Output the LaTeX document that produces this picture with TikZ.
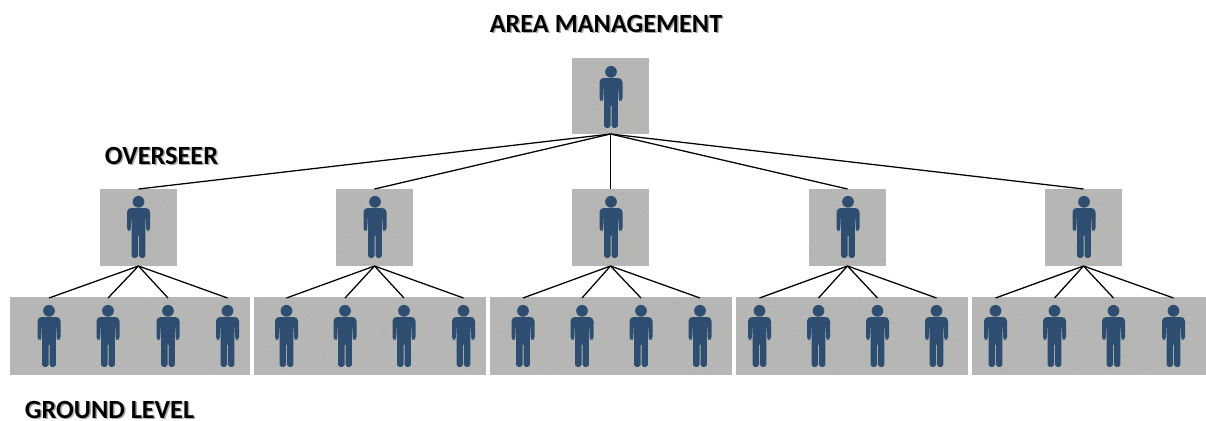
\documentclass[tikz,border=0pt]{standalone}
\usepackage{fontspec}
\setmainfont{Carlito}
\definecolor{panel}{HTML}{B6B6B4}
\definecolor{speck}{HTML}{9C9C9A}
\definecolor{figblue}{HTML}{2D4E70}
\definecolor{shadowgrey}{HTML}{ABABAB}
\tikzset{
  x=0.75pt,y=-0.75pt,
  panelbox/.style={fill=panel,draw=none,inner sep=0pt,outer sep=0pt,anchor=north west},
  link/.style={draw=black,line width=0.95pt},
  lbl/.style={font=\fontsize{19.7pt}{22pt}\selectfont\bfseries,inner sep=0pt,text=black,anchor=base},
  person/.pic={
    \fill[figblue] (0,5.8) circle[radius=4.4pt];
    \fill[figblue,rounded corners=1.4pt]
      (-9,12) -- (9,12) -- (11.5,14) -- (11.5,34) -- (9.3,35.5) -- (7.6,34) -- (7.4,21)
      -- (6.9,21) -- (6.9,61.8) -- (0.5,61.8) -- (0.5,38) -- (-0.5,38) -- (-0.5,61.8) -- (-6.9,61.8)
      -- (-6.9,21) -- (-7.4,21) -- (-7.6,34) -- (-9.3,35.5) -- (-11.5,34) -- (-11.5,14) -- cycle;
    \coordinate (-top) at (0,-7);
  }
}
\newcommand{\panel}[5]{%
  \node[panelbox,minimum width=#4*0.75pt,minimum height=#5*0.75pt] (#1) at (#2,#3) {};
  \pgfmathtruncatemacro{\specks}{#4/5}%
  \foreach \s in {1,...,\specks}{%
    \pgfmathsetmacro{\sx}{#2+2+rnd*(#4-4)}%
    \pgfmathsetmacro{\sy}{#3+2+rnd*(#5-4)}%
    \fill[speck,opacity=0.25] (\sx,\sy) circle[radius=0.8pt];}%
}
\newcommand{\lbltext}[3]{%
  \node[lbl,text=shadowgrey] at (#1+1.5,#2+1.5) {#3};
  \node[lbl] at (#1,#2) {#3};}
\begin{document}
\begin{tikzpicture}
\pgfmathsetseed{11}
\useasboundingbox (0,0) rectangle (1206,421);
% panels
\panel{top}{572}{58}{77}{76}
\panel{m1}{100}{189}{77}{77}
\panel{m2}{336}{189}{77}{77}
\panel{m3}{572}{189}{77}{77}
\panel{m4}{809}{189}{77}{77}
\panel{m5}{1045}{189}{77}{77}
\panel{g1}{10}{297}{240}{78}
\panel{g2}{254}{297}{232}{78}
\panel{g3}{490}{297}{242}{78}
\panel{g4}{736}{297}{232}{78}
\panel{g5}{972}{297}{234}{78}
% persons
\pic (ptop) at (611,66) {person};
\foreach \n/\x in {1/138.5,2/375,3/611,4/848,5/1084}{\pic (pm\n) at (\x,196) {person};}
\foreach \n/\x in {
 11/49,12/108,13/168,14/227.5,
 21/286.5,22/345,23/404,24/463.5,
 31/523,32/582,33/641,34/700,
 41/759.5,42/818.5,43/877.5,44/936.5,
 51/995.5,52/1054.5,53/1113.5,54/1173.5}{\pic (pg\n) at (\x,305) {person};}
% connectors
\foreach \n in {1,...,5}{\draw[link] (top.south) -- (m\n.north);}
\foreach \n in {1,...,5}{\foreach \k in {1,...,4}{\draw[link] (m\n.south) -- (pg\n\k-top);}}
% labels
\lbltext{606}{32}{AREA MANAGEMENT}
\lbltext{161.5}{164}{OVERSEER}
\lbltext{109.5}{418}{GROUND LEVEL}
\end{tikzpicture}
\end{document}
